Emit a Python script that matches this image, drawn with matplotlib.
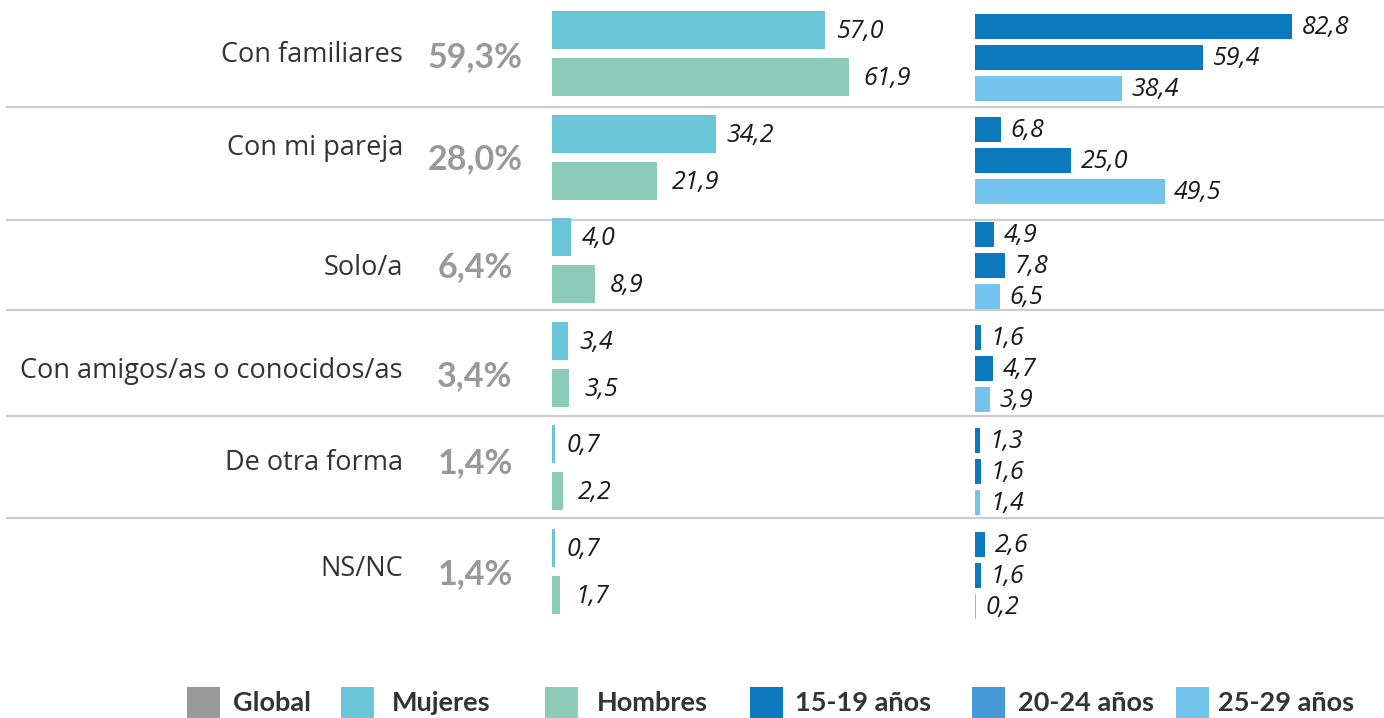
import matplotlib.pyplot as plt
from matplotlib.patches import Rectangle

# datos
categorias = ['Con familiares', 'Con mi pareja', 'Solo/a',
              'Con amigos/as o conocidos/as', 'De otra forma', 'NS/NC']
global_pct = ['59,3%', '28,0%', '6,4%', '3,4%', '1,4%', '1,4%']
mujeres = [57.0, 34.2, 4.0, 3.4, 0.7, 0.7]
hombres = [61.9, 21.9, 8.9, 3.5, 2.2, 1.7]
edad_15_19 = [82.8, 6.8, 4.9, 1.6, 1.3, 2.6]
edad_20_24 = [59.4, 25.0, 7.8, 4.7, 1.6, 1.6]
edad_25_29 = [38.4, 49.5, 6.5, 3.9, 1.4, 0.2]
leyenda = ['Global', 'Mujeres', 'Hombres', '15-19 años', '20-24 años', '25-29 años']

# estilos
c_global = '#999999'
c_muj = '#6ac5d8'
c_hom = '#8ccbb8'
c_1519 = '#0c79be'
c_2024 = '#4499d6'
c_2529 = '#72c4ec'
c_texto = '#333333'
fuente = 'Open Sans'

W, H = 1384, 718
# layout en pixeles (posiciones de filas)
top_genero = [11, 115, 218, 322, 425, 529]
top_edad = [14, 117, 222, 325, 428, 532]
separadores = [107, 220, 310, 416, 518]
y_cat = [55, 148, 268, 371, 463, 569]
y_glob = [57, 159, 267, 376, 463, 574]

fig = plt.figure(figsize=(W / 100, H / 100), dpi=100)
fig.patch.set_facecolor('white')

ax_bg = fig.add_axes([0, 0, 1, 1])
ax_bg.set_xlim(0, W)
ax_bg.set_ylim(H, 0)
ax_bg.axis('off')

for y in separadores:
    ax_bg.plot([7, W], [y, y], color='#cccccc', lw=1.6, zorder=0)

for i, cat in enumerate(categorias):
    ax_bg.text(403, y_cat[i], cat, ha='right', va='center', fontsize=19.5,
               color=c_texto, family=fuente)
    ax_bg.text(475, y_glob[i], global_pct[i], ha='center', va='center',
               fontsize=24.5, fontweight='bold', color=c_global, family='Lato')

# panel por sexo
g_left, g_right, g_escala = 552, 960, 4.79
ax_g = fig.add_axes([g_left / W, 0, (g_right - g_left) / W, 1])
ax_g.set_xlim(0, (g_right - g_left) / g_escala)
ax_g.set_ylim(H, 0)
ax_g.axis('off')

alto_g = 38
y_muj = [t + alto_g / 2 for t in top_genero]
y_hom = [t + 47 + alto_g / 2 for t in top_genero]
ax_g.barh(y_muj, mujeres, height=alto_g, color=c_muj)
ax_g.barh(y_hom, hombres, height=alto_g, color=c_hom)


def etiquetas(ax, ys, vals, dx):
    for y, v in zip(ys, vals):
        ax.annotate(f'{v:.1f}'.replace('.', ','), (v, y), xytext=(dx, -1),
                    textcoords='offset points', ha='left', va='center',
                    fontsize=18, fontstyle='italic', color='#1a1a1a',
                    family=fuente, annotation_clip=False)


etiquetas(ax_g, y_muj, mujeres, 8)
etiquetas(ax_g, y_hom, hombres, 11)

# panel por edad
a_left, a_right, a_escala = 975, 1384, 3.83
ax_a = fig.add_axes([a_left / W, 0, (a_right - a_left) / W, 1])
ax_a.set_xlim(0, (a_right - a_left) / a_escala)
ax_a.set_ylim(H, 0)
ax_a.axis('off')

alto_a = 25
series_edad = [edad_15_19, edad_20_24, edad_25_29]
# en el original la barra 20-24 usa el mismo azul que 15-19
colores_barras = [c_1519, c_1519, c_2529]
for k, (serie, col) in enumerate(zip(series_edad, colores_barras)):
    ys = [t + k * 31 + alto_a / 2 for t in top_edad]
    ax_a.barh(ys, serie, height=alto_a, color=col)
    etiquetas(ax_a, ys, serie, 7)

# leyenda
colores_ley = [c_global, c_muj, c_hom, c_1519, c_2024, c_2529]
x_patch = [187, 341, 545, 750, 972, 1176]
x_txt = [233, 392, 597, 795, 1018, 1218]
for lab, col, xp, xt in zip(leyenda, colores_ley, x_patch, x_txt):
    ax_bg.add_patch(Rectangle((xp, 687), 33, 31, color=col, lw=0))
    ax_bg.text(xt, 703, lab, ha='left', va='center', fontsize=19.5,
               fontweight='bold', color=c_texto, family='Lato')

fig.savefig('out.png', dpi=100, facecolor='white')
